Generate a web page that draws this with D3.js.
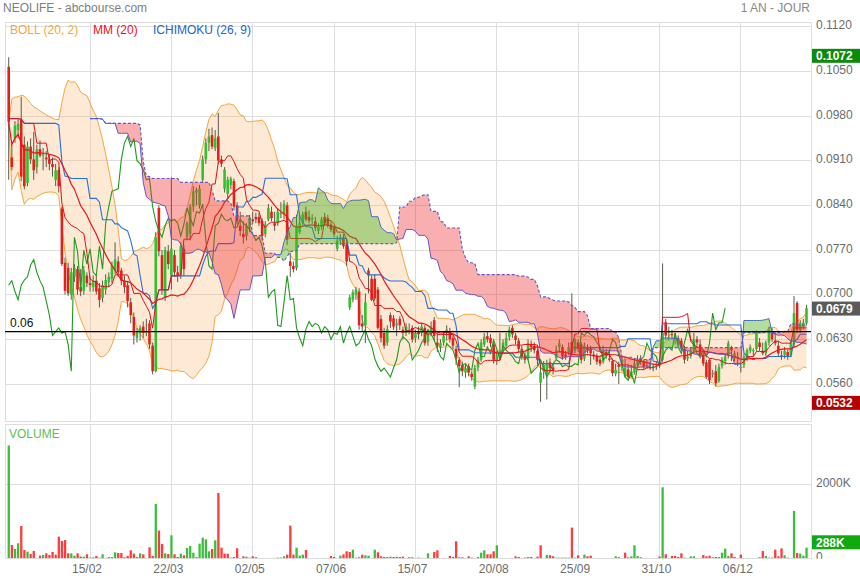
<!DOCTYPE html>
<html>
<head>
<meta charset="utf-8">
<script src="https://cdn.jsdelivr.net/npm/d3@7"></script>
<style>
  html, body { margin: 0; padding: 0; background: #ffffff; }
  svg { display: block; font-family: "Liberation Sans", Arial, sans-serif; }
</style>
</head>
<body>
<svg id="chart" width="860" height="580"></svg>
<script>
// NEOLIFE daily sessions, one year (prices in EUR, volume in thousands)
const openP = [
0.1057,0.0915,0.0945,0.0958,0.0975,0.0935,0.0875,0.0932,0.0912,0.0900,
0.0928,0.0918,0.0915,0.0912,0.0905,0.0880,0.0895,0.0835,0.0750,0.0742,
0.0700,0.0728,0.0740,0.0712,0.0706,0.0730,0.0718,0.0712,0.0722,0.0710,
0.0695,0.0708,0.0720,0.0725,0.0738,0.0752,0.0738,0.0722,0.0715,0.0688,
0.0665,0.0632,0.0640,0.0650,0.0640,0.0655,0.0620,0.0580,0.0836,0.0762,
0.0695,0.0768,0.0730,0.0762,0.0735,0.0730,0.0772,0.0790,0.0795,0.0838,
0.0860,0.0840,0.0880,0.0912,0.0938,0.0950,0.0930,0.0948,0.0912,0.0866,
0.0858,0.0872,0.0878,0.0840,0.0808,0.0795,0.0792,0.0805,0.0818,0.0822,
0.0822,0.0816,0.0795,0.0818,0.0830,0.0812,0.0812,0.0826,0.0826,0.0840,
0.0752,0.0745,0.0742,0.0798,0.0812,0.0830,0.0822,0.0818,0.0815,0.0800,
0.0806,0.0822,0.0820,0.0810,0.0805,0.0772,0.0785,0.0790,0.0778,0.0680,
0.0692,0.0700,0.0705,0.0655,0.0652,0.0738,0.0725,0.0725,0.0708,0.0662,
0.0640,0.0625,0.0668,0.0663,0.0652,0.0662,0.0645,0.0640,0.0642,0.0648,
0.0632,0.0642,0.0640,0.0648,0.0626,0.0642,0.0660,0.0625,0.0618,0.0625,
0.0640,0.0642,0.0632,0.0615,0.0598,0.0590,0.0578,0.0588,0.0576,0.0556,
0.0586,0.0598,0.0622,0.0635,0.0632,0.0622,0.0596,0.0605,0.0612,0.0620,
0.0634,0.0648,0.0636,0.0628,0.0615,0.0605,0.0600,0.0622,0.0620,0.0612,
0.0562,0.0580,0.0575,0.0594,0.0586,0.0600,0.0618,0.0618,0.0606,0.0610,
0.0626,0.0612,0.0625,0.0622,0.0600,0.0618,0.0616,0.0606,0.0604,0.0598,
0.0595,0.0610,0.0600,0.0596,0.0576,0.0590,0.0586,0.0572,0.0583,0.0574,
0.0578,0.0590,0.0600,0.0595,0.0588,0.0586,0.0588,0.0590,0.0594,0.0598,
0.0657,0.0640,0.0638,0.0630,0.0632,0.0628,0.0615,0.0600,0.0604,0.0612,
0.0630,0.0622,0.0606,0.0594,0.0598,0.0575,0.0580,0.0565,0.0588,0.0596,
0.0605,0.0618,0.0600,0.0602,0.0585,0.0590,0.0600,0.0612,0.0612,0.0615,
0.0625,0.0612,0.0608,0.0625,0.0640,0.0628,0.0620,0.0605,0.0605,0.0610,
0.0605,0.0622,0.0687,0.0644,0.0650,0.0655];

const highP = [
0.1072,0.0935,0.0972,0.0975,0.1010,0.0948,0.0940,0.0945,0.0955,0.0935,
0.0942,0.0930,0.0925,0.0920,0.0915,0.0905,0.0900,0.0838,0.0758,0.0750,
0.0742,0.0748,0.0745,0.0740,0.0745,0.0735,0.0728,0.0730,0.0732,0.0718,
0.0722,0.0732,0.0735,0.0752,0.0782,0.0760,0.0742,0.0730,0.0720,0.0695,
0.0672,0.0648,0.0652,0.0658,0.0662,0.0660,0.0625,0.0798,0.0840,0.0770,
0.0775,0.0778,0.0884,0.0770,0.0745,0.0782,0.0778,0.0815,0.0842,0.0870,
0.0868,0.0872,0.0918,0.0945,0.0960,0.0962,0.0958,0.0985,0.0918,0.0900,
0.0885,0.0885,0.0882,0.0845,0.0830,0.0815,0.0812,0.0825,0.0830,0.0828,
0.0828,0.0820,0.0815,0.0842,0.0838,0.0830,0.0835,0.0845,0.0848,0.0845,
0.0765,0.0752,0.0825,0.0825,0.0830,0.0838,0.0832,0.0826,0.0822,0.0812,
0.0822,0.0828,0.0825,0.0815,0.0808,0.0792,0.0795,0.0795,0.0782,0.0700,
0.0708,0.0712,0.0710,0.0668,0.0702,0.0742,0.0730,0.0732,0.0712,0.0668,
0.0648,0.0652,0.0672,0.0668,0.0662,0.0666,0.0650,0.0655,0.0655,0.0652,
0.0645,0.0650,0.0655,0.0652,0.0645,0.0658,0.0665,0.0640,0.0630,0.0642,
0.0652,0.0648,0.0636,0.0620,0.0602,0.0595,0.0592,0.0592,0.0580,0.0590,
0.0602,0.0630,0.0640,0.0642,0.0638,0.0625,0.0612,0.0640,0.0630,0.0640,
0.0650,0.0652,0.0640,0.0632,0.0620,0.0610,0.0630,0.0628,0.0625,0.0615,
0.0590,0.0596,0.0598,0.0600,0.0592,0.0620,0.0630,0.0622,0.0612,0.0625,
0.0702,0.0632,0.0630,0.0626,0.0625,0.0622,0.0620,0.0612,0.0608,0.0602,
0.0620,0.0615,0.0612,0.0600,0.0592,0.0595,0.0605,0.0600,0.0590,0.0590,
0.0600,0.0605,0.0605,0.0598,0.0598,0.0595,0.0592,0.0596,0.0600,0.0749,
0.0662,0.0650,0.0645,0.0640,0.0636,0.0632,0.0620,0.0612,0.0618,0.0640,
0.0635,0.0630,0.0610,0.0598,0.0600,0.0582,0.0590,0.0592,0.0602,0.0608,
0.0628,0.0620,0.0612,0.0610,0.0592,0.0608,0.0616,0.0622,0.0616,0.0644,
0.0632,0.0625,0.0628,0.0650,0.0648,0.0640,0.0628,0.0612,0.0618,0.0614,
0.0628,0.0698,0.0690,0.0660,0.0662,0.0684];

const lowP = [
0.0880,0.0895,0.0938,0.0945,0.0878,0.0865,0.0870,0.0905,0.0880,0.0890,
0.0915,0.0895,0.0900,0.0895,0.0885,0.0870,0.0860,0.0745,0.0700,0.0698,
0.0692,0.0720,0.0700,0.0698,0.0700,0.0712,0.0705,0.0705,0.0700,0.0680,
0.0688,0.0700,0.0712,0.0718,0.0732,0.0728,0.0715,0.0702,0.0680,0.0655,
0.0622,0.0625,0.0628,0.0632,0.0635,0.0615,0.0575,0.0578,0.0760,0.0700,
0.0690,0.0740,0.0708,0.0728,0.0720,0.0725,0.0730,0.0785,0.0785,0.0830,
0.0840,0.0835,0.0875,0.0905,0.0925,0.0928,0.0925,0.0905,0.0900,0.0860,
0.0850,0.0865,0.0832,0.0810,0.0792,0.0780,0.0785,0.0798,0.0810,0.0812,
0.0808,0.0785,0.0790,0.0815,0.0815,0.0800,0.0808,0.0820,0.0818,0.0778,
0.0728,0.0735,0.0738,0.0795,0.0808,0.0815,0.0812,0.0810,0.0800,0.0795,
0.0802,0.0808,0.0805,0.0798,0.0790,0.0768,0.0778,0.0772,0.0745,0.0676,
0.0688,0.0692,0.0645,0.0642,0.0624,0.0702,0.0690,0.0690,0.0645,0.0625,
0.0615,0.0620,0.0648,0.0645,0.0635,0.0645,0.0630,0.0635,0.0638,0.0625,
0.0625,0.0630,0.0635,0.0620,0.0620,0.0635,0.0628,0.0610,0.0610,0.0620,
0.0628,0.0625,0.0615,0.0590,0.0555,0.0572,0.0570,0.0572,0.0565,0.0552,
0.0580,0.0595,0.0618,0.0625,0.0618,0.0592,0.0590,0.0598,0.0608,0.0615,
0.0628,0.0632,0.0622,0.0610,0.0598,0.0592,0.0598,0.0610,0.0608,0.0590,
0.0532,0.0568,0.0536,0.0578,0.0575,0.0598,0.0610,0.0598,0.0598,0.0605,
0.0604,0.0608,0.0610,0.0592,0.0596,0.0608,0.0590,0.0598,0.0590,0.0588,
0.0592,0.0600,0.0595,0.0572,0.0572,0.0560,0.0580,0.0570,0.0566,0.0570,
0.0575,0.0586,0.0590,0.0582,0.0584,0.0582,0.0580,0.0582,0.0586,0.0595,
0.0630,0.0628,0.0630,0.0622,0.0620,0.0612,0.0592,0.0596,0.0600,0.0610,
0.0620,0.0600,0.0588,0.0568,0.0560,0.0570,0.0556,0.0562,0.0584,0.0590,
0.0600,0.0596,0.0596,0.0588,0.0578,0.0585,0.0596,0.0608,0.0604,0.0612,
0.0612,0.0605,0.0604,0.0620,0.0626,0.0620,0.0604,0.0598,0.0600,0.0598,
0.0602,0.0618,0.0640,0.0640,0.0646,0.0652];

const closeP = [
0.0971,0.0900,0.0965,0.0968,0.0885,0.0870,0.0932,0.0912,0.0895,0.0928,
0.0918,0.0920,0.0912,0.0905,0.0900,0.0895,0.0870,0.0748,0.0706,0.0702,
0.0735,0.0742,0.0708,0.0705,0.0738,0.0718,0.0715,0.0722,0.0705,0.0692,
0.0715,0.0723,0.0728,0.0746,0.0755,0.0735,0.0722,0.0712,0.0690,0.0668,
0.0636,0.0642,0.0648,0.0640,0.0642,0.0622,0.0580,0.0790,0.0768,0.0708,
0.0770,0.0748,0.0772,0.0735,0.0730,0.0776,0.0740,0.0812,0.0838,0.0862,
0.0864,0.0866,0.0912,0.0938,0.0948,0.0932,0.0945,0.0910,0.0905,0.0896,
0.0880,0.0882,0.0838,0.0815,0.0800,0.0790,0.0808,0.0820,0.0815,0.0818,
0.0812,0.0792,0.0810,0.0836,0.0820,0.0808,0.0830,0.0828,0.0842,0.0786,
0.0745,0.0740,0.0808,0.0812,0.0826,0.0818,0.0816,0.0820,0.0805,0.0806,
0.0818,0.0812,0.0808,0.0802,0.0795,0.0785,0.0790,0.0776,0.0752,0.0696,
0.0704,0.0708,0.0652,0.0650,0.0688,0.0730,0.0692,0.0694,0.0648,0.0632,
0.0620,0.0646,0.0658,0.0650,0.0655,0.0652,0.0640,0.0650,0.0645,0.0630,
0.0640,0.0638,0.0650,0.0624,0.0640,0.0650,0.0635,0.0620,0.0624,0.0635,
0.0645,0.0630,0.0620,0.0600,0.0588,0.0580,0.0585,0.0578,0.0571,0.0585,
0.0598,0.0625,0.0634,0.0630,0.0624,0.0598,0.0605,0.0613,0.0625,0.0632,
0.0645,0.0638,0.0629,0.0615,0.0603,0.0598,0.0624,0.0618,0.0613,0.0598,
0.0578,0.0590,0.0592,0.0585,0.0582,0.0613,0.0624,0.0603,0.0603,0.0618,
0.0608,0.0629,0.0615,0.0598,0.0620,0.0613,0.0608,0.0603,0.0595,0.0592,
0.0613,0.0605,0.0598,0.0577,0.0582,0.0587,0.0598,0.0585,0.0571,0.0580,
0.0592,0.0598,0.0595,0.0587,0.0590,0.0587,0.0588,0.0592,0.0590,0.0640,
0.0636,0.0642,0.0637,0.0634,0.0625,0.0618,0.0598,0.0603,0.0612,0.0630,
0.0625,0.0605,0.0592,0.0571,0.0566,0.0577,0.0561,0.0587,0.0598,0.0603,
0.0624,0.0613,0.0608,0.0603,0.0587,0.0603,0.0613,0.0618,0.0613,0.0640,
0.0618,0.0608,0.0625,0.0645,0.0630,0.0624,0.0608,0.0603,0.0612,0.0603,
0.0624,0.0671,0.0645,0.0656,0.0656,0.0679];

const volumeK = [
3050,360,252,405,874,225,180,117,198,10,
72,90,135,90,171,99,585,468,495,135,
135,72,135,45,45,108,18,27,63,18,
108,9,36,36,162,144,144,27,63,216,
126,36,135,108,5,297,63,1470,750,390,
135,117,622,108,36,126,81,279,333,153,
36,396,558,513,189,252,486,1766,288,126,
126,18,36,270,9,54,45,18,54,36,
9,9,2,2,2,9,18,18,54,99,
883,99,288,72,99,225,5,5,5,5,
5,5,5,63,36,5,72,108,189,171,
234,18,27,99,81,72,9,234,162,54,
36,36,45,36,45,36,45,9,27,27,
5,18,9,5,135,5,171,216,5,5,
5,63,36,460,27,27,5,54,18,5,
36,153,216,108,108,189,351,5,5,5,
5,5,54,36,5,18,36,36,5,45,
351,5,90,81,54,18,18,18,18,18,
829,18,81,5,99,54,72,5,5,5,
5,5,5,5,54,36,5,153,27,54,
351,63,27,5,5,9,5,5,45,1919,
108,9,63,63,36,135,18,5,54,54,
5,5,90,54,72,27,36,36,153,261,
63,135,36,5,99,5,5,5,5,5,
27,198,63,18,18,234,54,270,81,18,
9,1279,144,126,72,288];

// Axis ticks
const xTickIndex  = [26, 52, 78, 104, 130, 156, 182, 208, 234];
const xTickLabels = ["15/02", "22/03", "02/05", "07/06", "15/07", "20/08", "25/09", "31/10", "06/12"];
const priceTicks  = [0.0560, 0.0630, 0.0700, 0.0770, 0.0840, 0.0910, 0.0980, 0.1050, 0.1120];
const volumeTicks = [0, 2000];
const refLevel = 0.0642;           // horizontal support line

// Indicator settings
const BOLL_PERIOD = 20, BOLL_K = 2, MM_PERIOD = 20;
const TENKAN = 9, KIJUN = 26, SENKOU_B = 52, SHIFT = 26;

const N = closeP.length;
const W = 860, H = 580;
const plot = { left: 5, right: 811, top: 22, bottom: 421 };
const vol  = { top: 424.5, bottom: 558.3 };

const x  = d3.scaleLinear().domain([0, N - 1]).range([8.7, 806.5]);
const y  = d3.scaleLinear().domain([0.056, 0.112]).range([384, 26.7]);
const yv = d3.scaleLinear().domain([0, 2000]).range([vol.bottom, 484.3]);

// ---- indicators (windows shrink at the start of the series) ----
function midRange(period, i) {
  const s = Math.max(0, i - period + 1);
  const hi = d3.max(highP.slice(s, i + 1)), lo = d3.min(lowP.slice(s, i + 1));
  return (hi + lo) / 2;
}
const mm = [], bUp = [], bLo = [];
for (let i = 0; i < N; i++) {
  const w = closeP.slice(Math.max(0, i - BOLL_PERIOD + 1), i + 1);
  const m = d3.mean(w);
  const sd = Math.sqrt(d3.mean(w, v => (v - m) * (v - m)));
  const wm = closeP.slice(Math.max(0, i - MM_PERIOD + 1), i + 1);
  mm.push(d3.mean(wm));
  bUp.push(m + BOLL_K * sd);
  bLo.push(m - BOLL_K * sd);
}
const tenkan = d3.range(N).map(i => midRange(TENKAN, i));
const kijun  = d3.range(N).map(i => midRange(KIJUN, i));
const cloud = [];
for (let p = SHIFT; p < N; p++) {
  const s = p - SHIFT;
  cloud.push({ i: p, a: (tenkan[s] + kijun[s]) / 2, b: midRange(SENKOU_B, s) });
}
// split the cloud into bullish / bearish runs, adding the crossing points
const runs = [];
let cur = null;
cloud.forEach((p, k) => {
  const sign = p.a >= p.b ? 1 : -1;
  if (!cur) { cur = { sign, pts: [p] }; runs.push(cur); return; }
  if (sign !== cur.sign) {
    const q = cloud[k - 1];
    const d0 = q.a - q.b, d1 = p.a - p.b, t = d0 / (d0 - d1);
    const v = q.a + t * (p.a - q.a);
    const c = { i: q.i + t, a: v, b: v };
    cur.pts.push(c);
    cur = { sign, pts: [c, p] };
    runs.push(cur);
  } else cur.pts.push(p);
});
const chikou = d3.range(0, N - SHIFT).map(i => ({ i, v: closeP[i + SHIFT] }));

// ---- drawing ----
const svg = d3.select("#chart");
const defs = svg.append("defs");
defs.append("clipPath").attr("id", "clipMain").append("rect")
  .attr("x", plot.left).attr("y", plot.top)
  .attr("width", plot.right - plot.left).attr("height", plot.bottom - plot.top);
defs.append("clipPath").attr("id", "clipVol").append("rect")
  .attr("x", plot.left).attr("y", vol.top)
  .attr("width", plot.right - plot.left).attr("height", vol.bottom - vol.top);
defs.append("clipPath").attr("id", "clipVolAxis").append("rect")
  .attr("x", plot.right).attr("y", vol.top).attr("width", W - plot.right).attr("height", vol.bottom - vol.top + 0.5);

const gridColor = "#dedede";
const grid = svg.append("g").attr("shape-rendering", "crispEdges").attr("stroke", gridColor).attr("fill", "none");
grid.selectAll(".hp").data(priceTicks).join("line")
  .attr("x1", plot.left).attr("x2", plot.right).attr("y1", d => y(d)).attr("y2", d => y(d));
grid.selectAll(".vx1").data(xTickIndex).join("line")
  .attr("x1", d => x(d)).attr("x2", d => x(d)).attr("y1", plot.top).attr("y2", plot.bottom);
grid.selectAll(".vx2").data(xTickIndex).join("line")
  .attr("x1", d => x(d)).attr("x2", d => x(d)).attr("y1", vol.top).attr("y2", vol.bottom);
grid.append("line").attr("x1", plot.left).attr("x2", plot.right).attr("y1", yv(2000)).attr("y2", yv(2000));
grid.append("rect").attr("x", plot.left).attr("y", plot.top)
  .attr("width", plot.right - plot.left).attr("height", plot.bottom - plot.top);
grid.append("rect").attr("x", plot.left).attr("y", vol.top)
  .attr("width", plot.right - plot.left).attr("height", vol.bottom - vol.top);

const main = svg.append("g").attr("clip-path", "url(#clipMain)");

// Bollinger envelope
main.append("path")
  .datum(d3.range(N))
  .attr("d", d3.area().x(i => x(i)).y0(i => y(bLo[i])).y1(i => y(bUp[i])))
  .attr("fill", "rgba(250,176,100,0.28)");
const lineOf = arr => d3.line().x(i => x(i)).y(i => y(arr[i]));
["up", "lo"].forEach(k => {
  main.append("path").datum(d3.range(N))
    .attr("d", lineOf(k === "up" ? bUp : bLo))
    .attr("fill", "none").attr("stroke", "#f5a53c").attr("stroke-width", 1);
});

// candles
const candles = main.append("g");
candles.selectAll("line").data(d3.range(N)).join("line")
  .attr("x1", i => x(i)).attr("x2", i => x(i))
  .attr("y1", i => y(highP[i])).attr("y2", i => y(lowP[i]))
  .attr("stroke", "#5a5a4a").attr("stroke-width", 1);
candles.selectAll("rect").data(d3.range(N)).join("rect")
  .attr("x", i => x(i) - 1.3).attr("width", 2.6)
  .attr("y", i => y(Math.max(openP[i], closeP[i])))
  .attr("height", i => Math.max(1, Math.abs(y(openP[i]) - y(closeP[i]))))
  .attr("fill", i => closeP[i] >= openP[i] ? "#2fc22f" : "#e3211c");

// indicator lines
main.append("path").datum(chikou)
  .attr("d", d3.line().x(d => x(d.i)).y(d => y(d.v)))
  .attr("fill", "none").attr("stroke", "#1e9a1e").attr("stroke-width", 1.1);
main.append("path").datum(d3.range(N)).attr("d", lineOf(kijun))
  .attr("fill", "none").attr("stroke", "#2b6fd8").attr("stroke-width", 1.1);
main.append("path").datum(d3.range(N)).attr("d", lineOf(tenkan))
  .attr("fill", "none").attr("stroke", "#e0101a").attr("stroke-width", 1);
main.append("path").datum(d3.range(N)).attr("d", lineOf(mm))
  .attr("fill", "none").attr("stroke", "#e8141b").attr("stroke-width", 1.2);

// Ichimoku cloud: senkou spans, then translucent fill on top
main.append("path").datum(cloud)
  .attr("d", d3.line().x(d => x(d.i)).y(d => y(d.a)))
  .attr("fill", "none").attr("stroke", "#4a5ee0").attr("stroke-width", 1);
main.append("path").datum(cloud)
  .attr("d", d3.line().x(d => x(d.i)).y(d => y(d.b)))
  .attr("fill", "none").attr("stroke", "#4a5ee0").attr("stroke-width", 1.1)
  .attr("stroke-dasharray", "3,2");
main.selectAll(".kumo").data(runs).join("path")
  .attr("d", r => d3.area().x(d => x(d.i)).y0(d => y(d.a)).y1(d => y(d.b))(r.pts))
  .attr("fill", r => r.sign > 0 ? "rgba(70,175,30,0.42)" : "rgba(240,45,45,0.38)");

// support line
main.append("line")
  .attr("x1", plot.left).attr("x2", plot.right)
  .attr("y1", y(refLevel)).attr("y2", y(refLevel))
  .attr("stroke", "#000").attr("stroke-width", 1.2);
svg.append("text").attr("x", 10).attr("y", y(refLevel) - 5)
  .attr("font-size", 12).attr("fill", "#111").text(d3.format(".2f")(refLevel));

// volume bars
const vg = svg.append("g").attr("clip-path", "url(#clipVol)");
vg.selectAll("rect").data(d3.range(N)).join("rect")
  .attr("x", i => x(i) - 1.1).attr("width", 2.3)
  .attr("y", i => yv(volumeK[i]))
  .attr("height", i => yv(0) - yv(volumeK[i]))
  .attr("fill", i => (i === 0 || closeP[i] >= closeP[i - 1]) ? "#3dbd3d" : "#ff3b3b");

// texts
const txt = svg.append("g").attr("font-size", 12);
txt.append("text").attr("x", 3).attr("y", 12).attr("fill", "#7d7d7d").text("NEOLIFE - abcbourse.com");
txt.append("text").attr("x", 810).attr("y", 12).attr("text-anchor", "end").attr("fill", "#888").text("1 AN - JOUR");
txt.append("text").attr("x", 10).attr("y", 34).attr("fill", "#f5a742").text("BOLL (20, 2)");
txt.append("text").attr("x", 93).attr("y", 34).attr("fill", "#ee1111").text("MM (20)");
txt.append("text").attr("x", 153).attr("y", 34).attr("fill", "#1e64c8").text("ICHIMOKU (26, 9)");
txt.append("text").attr("x", 9).attr("y", 438).attr("fill", "#5cbf4a").text("VOLUME");

txt.selectAll(".py").data(priceTicks).join("text")
  .attr("x", 816).attr("y", d => y(d) + 2.5).attr("fill", "#6b6b6b").text(d => d.toFixed(4));
txt.append("g").attr("clip-path", "url(#clipVolAxis)")
  .selectAll("text").data(volumeTicks).join("text")
  .attr("x", 816).attr("y", d => yv(d) + 2.5).attr("fill", "#6b6b6b")
  .text(d => d === 0 ? "0" : d + "K");
txt.selectAll(".xl").data(xTickIndex).join("text")
  .attr("x", d => x(d) - 3).attr("y", 573).attr("text-anchor", "middle").attr("fill", "#6b6b6b")
  .text((d, k) => xTickLabels[k]);

// value badges on the right axis
function badge(cy, label, color) {
  const g = svg.append("g");
  g.append("rect").attr("x", 812).attr("y", cy - 7).attr("width", 48).attr("height", 14).attr("fill", color);
  g.append("text").attr("x", 816).attr("y", cy + 4.3).attr("font-size", 12).attr("font-weight", "bold")
    .attr("fill", "#fff").text(label);
}
const hiV = d3.max(highP), loV = d3.min(lowP), lastV = closeP[N - 1], lastVol = volumeK[N - 1];
badge(y(hiV) - 1.5, hiV.toFixed(4), "#0c8a0c");
badge(y(lastV) + 0.5, lastV.toFixed(4), "#5a5a5a");
badge(y(loV) + 1, loV.toFixed(4), "#b40000");
badge(Math.min(yv(lastVol), vol.bottom - 16), lastVol + "K", "#10aa10");
</script>
</body>
</html>
